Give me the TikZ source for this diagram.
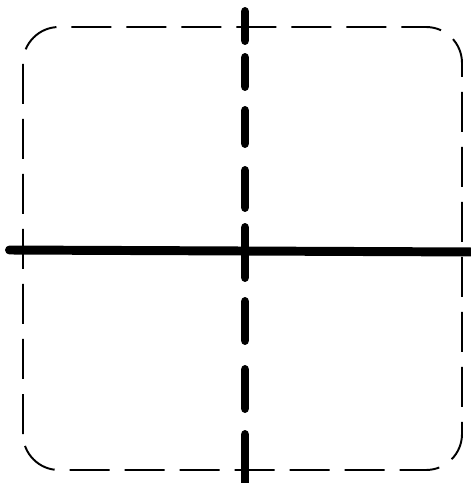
\documentclass[tikz,border=0pt]{standalone}

\begin{document}
\begin{tikzpicture}[line width=1.1pt]
  \useasboundingbox (0,0) rectangle (9.4,9.66);
  % Thin dashed outline with rounded corners.
  \draw[dash pattern=on 0.8cm off 0.3cm, rounded corners=0.72cm]
    (0.46,0.26) rectangle (9.24,9.12);
  % Thick horizontal line across the whole picture.
  \coordinate (L) at (0.19,4.66);
  \coordinate (R) at (9.5,4.62);
  \draw[line width=5.1pt, line cap=round] (L) -- (R);
  % Thick vertical line, drawn dash by dash.
  \foreach \a/\b in {9.43/8.85, 8.51/7.93, 7.45/6.79, 6.25/5.51,
                     5.11/4.11, 3.63/2.85, 2.27/1.49, 0.97/-0.2}
    \draw[line width=5.1pt, line cap=round] (4.9,\a) -- (4.9,\b);
\end{tikzpicture}
\end{document}
